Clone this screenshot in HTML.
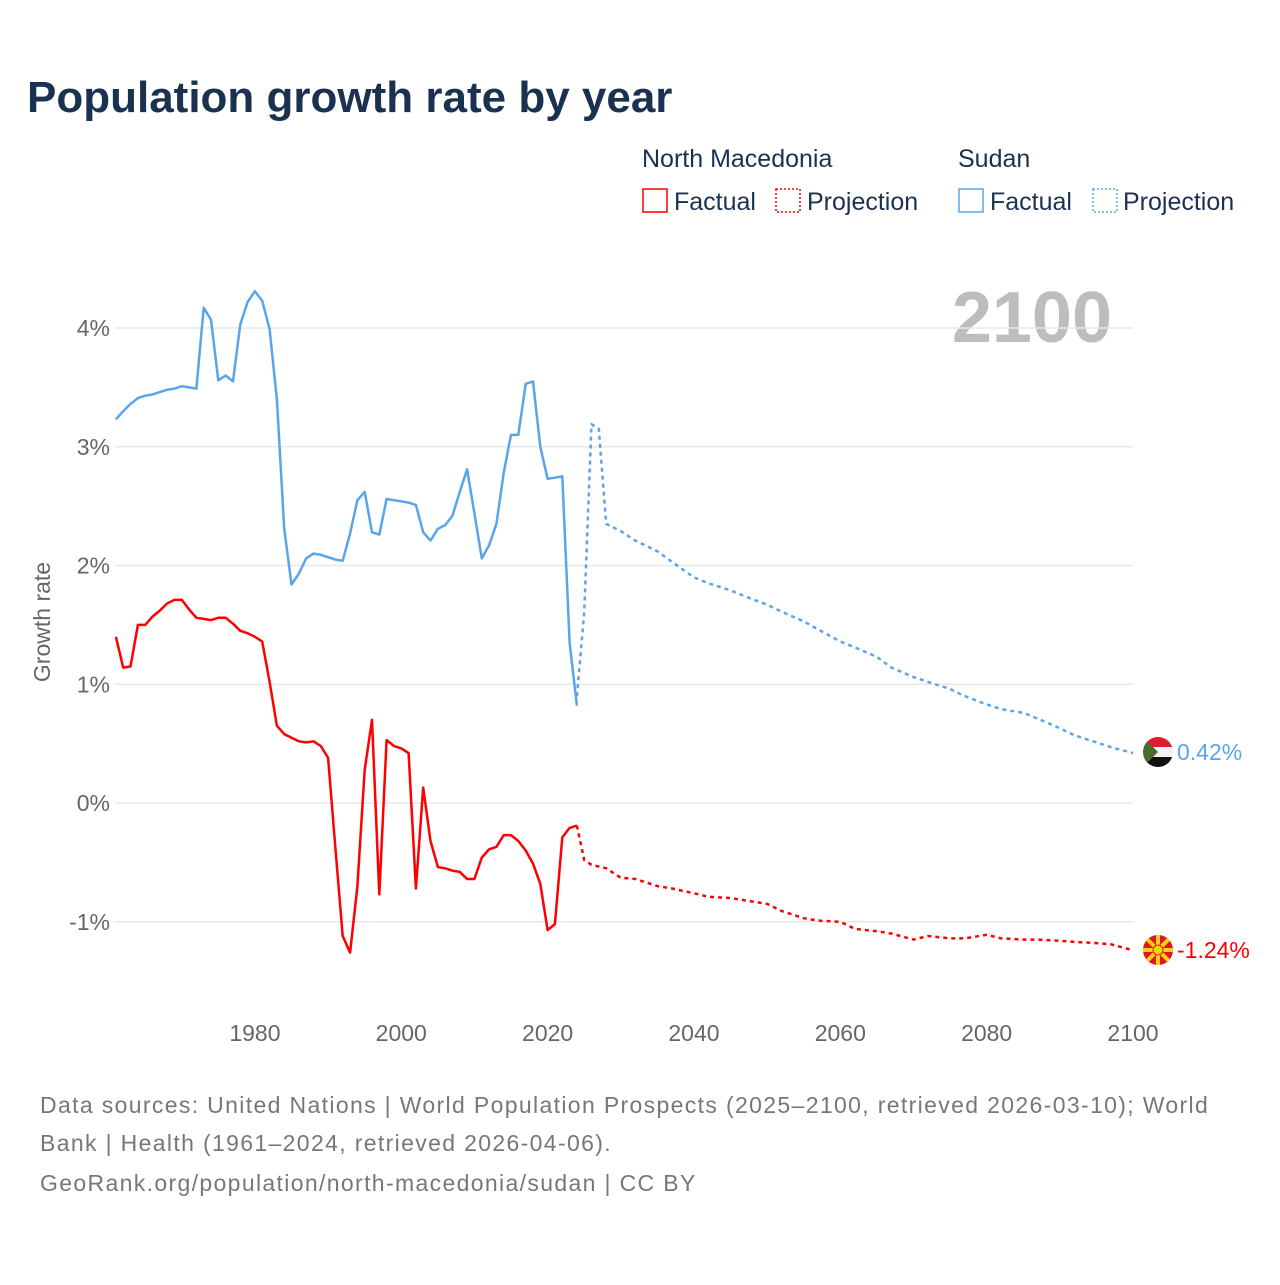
<!DOCTYPE html>
<html><head><meta charset="utf-8"><style>
body{margin:0;background:#fff;font-family:"Liberation Sans",sans-serif;}
</style></head><body>
<svg id="c" width="1280" height="1280" xmlns="http://www.w3.org/2000/svg">
<text x="27" y="112" font-size="44" font-weight="bold" fill="#1b3150">Population growth rate by year</text>
<g font-size="25" fill="#1b3150">
<text x="642" y="167">North Macedonia</text>
<text x="958" y="167">Sudan</text>
<g><rect x="643" y="189" width="24" height="23" fill="none" stroke="#ff0000" stroke-width="1.5"/><text x="674" y="210">Factual</text></g>
<g><rect x="776" y="189" width="24" height="23" fill="none" stroke="#ff0000" stroke-width="1.5" stroke-dasharray="2 2"/><text x="807" y="210">Projection</text></g>
<g><rect x="959" y="189" width="24" height="23" fill="none" stroke="#5aa5ea" stroke-width="1.5"/><text x="990" y="210">Factual</text></g>
<g><rect x="1093" y="189" width="24" height="23" fill="none" stroke="#5aa5ea" stroke-width="1.5" stroke-dasharray="2 2"/><text x="1123" y="210">Projection</text></g>
</g>
<text x="1112" y="342" font-size="72" font-weight="bold" fill="#bdbdbd" text-anchor="end">2100</text>
<text transform="translate(50,622) rotate(-90)" font-size="23" fill="#666" text-anchor="middle">Growth rate</text>
<g id="grid"></g><g id="yt"></g><g id="xt"></g><g id="lines"></g>
<g>
<clipPath id="cs"><circle cx="1158" cy="752" r="15"/></clipPath>
<g clip-path="url(#cs)"><rect x="1143" y="737" width="30" height="10" fill="#e21b2d"/><rect x="1143" y="747" width="30" height="10" fill="#f2f2f2"/><rect x="1143" y="757" width="30" height="10" fill="#111"/><polygon points="1143,737 1158,752 1143,767" fill="#4a6b2a"/></g></g>
<text x="1177" y="760" font-size="23" fill="#5aa5ea">0.42%</text>
<g>
<clipPath id="cm"><circle cx="1158" cy="950" r="15"/></clipPath>
<g clip-path="url(#cm)"><rect x="1143" y="935" width="30" height="30" fill="#e2141c"/>
<g stroke="#f8d117" stroke-width="4"><line x1="1143" y1="950" x2="1173" y2="950"/><line x1="1158" y1="935" x2="1158" y2="965"/><line x1="1146" y1="938" x2="1170" y2="962"/><line x1="1170" y1="938" x2="1146" y2="962"/></g>
<circle cx="1158" cy="950" r="5" fill="#f8d117" stroke="#e2141c" stroke-width="1"/></g></g>
<text x="1177" y="958" font-size="23" fill="#ff0000">-1.24%</text>
<g font-size="23" fill="#777" letter-spacing="1.35">
<text x="40" y="1113">Data sources: United Nations | World Population Prospects (2025–2100, retrieved 2026-03-10); World</text>
<text x="40" y="1151">Bank | Health (1961–2024, retrieved 2026-04-06).</text>
<text x="40" y="1191">GeoRank.org/population/north-macedonia/sudan | CC BY</text>
</g>
</svg>
<script>
const sdYears=[];for(let y=1961;y<=2024;y++)sdYears.push(y);
const sdFact=[3.23,3.30,3.36,3.41,3.43,3.44,3.46,3.48,3.49,3.51,3.50,3.49,4.17,4.07,3.56,3.60,3.55,4.03,4.22,4.31,4.23,3.99,3.40,2.31,1.84,1.93,2.06,2.10,2.09,2.07,2.05,2.04,2.27,2.55,2.62,2.28,2.26,2.56,2.55,2.54,2.53,2.51,2.28,2.21,2.31,2.34,2.42,2.62,2.81,2.44,2.06,2.17,2.35,2.78,3.10,3.10,3.53,3.55,3.00,2.73,2.74,2.75,1.35,0.82];
const sdProjYears=[2024,2025,2026,2027,2028,2030,2032,2035,2037,2040,2042,2045,2047,2050,2052,2055,2057,2060,2062,2065,2067,2070,2072,2075,2077,2080,2082,2085,2087,2090,2092,2095,2097,2100];
const sdProj=[0.90,1.60,3.19,3.15,2.35,2.29,2.21,2.12,2.03,1.90,1.85,1.79,1.74,1.67,1.61,1.53,1.46,1.36,1.31,1.23,1.14,1.06,1.02,0.96,0.90,0.83,0.79,0.76,0.71,0.63,0.57,0.51,0.47,0.42];
const nmFact=[1.40,1.14,1.15,1.50,1.50,1.57,1.62,1.68,1.71,1.71,1.63,1.56,1.55,1.54,1.56,1.56,1.51,1.45,1.43,1.40,1.36,1.02,0.65,0.58,0.55,0.52,0.51,0.52,0.48,0.38,-0.38,-1.12,-1.26,-0.70,0.28,0.70,-0.77,0.53,0.48,0.46,0.42,-0.72,0.13,-0.32,-0.54,-0.55,-0.57,-0.58,-0.64,-0.64,-0.46,-0.39,-0.37,-0.27,-0.27,-0.32,-0.40,-0.51,-0.68,-1.07,-1.02,-0.29,-0.21,-0.19];
const nmProjYears=[2024,2025,2026,2028,2030,2032,2035,2037,2040,2042,2045,2047,2050,2052,2055,2057,2060,2062,2065,2067,2070,2072,2075,2077,2080,2082,2085,2087,2090,2092,2095,2097,2100];
const nmProj=[-0.19,-0.48,-0.52,-0.55,-0.63,-0.64,-0.70,-0.72,-0.76,-0.79,-0.80,-0.82,-0.85,-0.91,-0.97,-0.99,-1.00,-1.06,-1.08,-1.10,-1.15,-1.12,-1.14,-1.14,-1.11,-1.14,-1.15,-1.15,-1.16,-1.17,-1.18,-1.19,-1.24];
const yTicks=[-1,0,1,2,3,4];
const xTicks=[1980,2000,2020,2040,2060,2080,2100];
const X=y=>115.9+(y-1961)*(1133-115.9)/139;
const Y=v=>803-v*118.75;
const NS="http://www.w3.org/2000/svg";
function mk(t,a,p){const e=document.createElementNS(NS,t);for(const k in a)e.setAttribute(k,a[k]);p.appendChild(e);return e;}
const grid=document.getElementById('grid'),yt=document.getElementById('yt'),xt=document.getElementById('xt'),lines=document.getElementById('lines');
yTicks.forEach(v=>{
 const l=mk('line',{x1:115,x2:1133,y1:Y(v),y2:Y(v),stroke:'#e8e8e8','stroke-width':1.5},grid);
 
 
 const t=mk('text',{x:110,y:Y(v)+8,'font-size':23,fill:'#666','text-anchor':'end'},yt);
 t.textContent=v+'%';
 
 
});
xTicks.forEach(v=>{
 const t=mk('text',{x:X(v),y:1041,'font-size':23,fill:'#666','text-anchor':'middle'},xt);
 t.textContent=v;
 
 
});
function line(xs,vs,color,dash,name){
 const d=xs.map((x,i)=>(i?'L':'M')+X(x).toFixed(1)+','+Y(vs[i]).toFixed(1)).join('');
 const p=mk('path',{d:d,fill:'none',stroke:color,'stroke-width':2.5,'stroke-linejoin':'round'},lines);
 if(dash)p.setAttribute('stroke-dasharray','4 4');
 
 
}
line(sdProjYears,sdProj,'#5aa5ea',true,'sudan-projection-line');
line(nmProjYears,nmProj,'#ff0000',true,'north-macedonia-projection-line');
line(sdYears,sdFact,'#5aa5ea',false,'sudan-factual-line');
line(sdYears,nmFact,'#ff0000',false,'north-macedonia-factual-line');
</script>
</body></html>
